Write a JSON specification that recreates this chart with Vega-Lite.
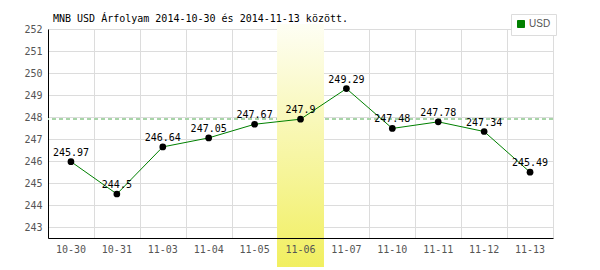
{
  "$schema": "https://vega.github.io/schema/vega-lite/v6.json",
  "width": 505,
  "height": 209,
  "autosize": {"type": "none"},
  "padding": {"left": 48, "top": 29, "right": 47, "bottom": 32},
  "background": "white",
  "title": {
    "text": "MNB USD Árfolyam 2014-10-30 és 2014-11-13 között.",
    "anchor": "start",
    "frame": "group",
    "dx": 5,
    "offset": -18,
    "baseline": "alphabetic",
    "font": "DejaVu Sans Mono",
    "fontSize": 10,
    "fontWeight": "normal",
    "color": "#000000"
  },
  "data": {
    "values": [
      {"date": "10-30", "rate": 245.97},
      {"date": "10-31", "rate": 244.5},
      {"date": "11-03", "rate": 246.64},
      {"date": "11-04", "rate": 247.05},
      {"date": "11-05", "rate": 247.67},
      {"date": "11-06", "rate": 247.9},
      {"date": "11-07", "rate": 249.29},
      {"date": "11-10", "rate": 247.48},
      {"date": "11-11", "rate": 247.78},
      {"date": "11-12", "rate": 247.34},
      {"date": "11-13", "rate": 245.49}
    ]
  },
  "resolve": {"axis": {"x": "independent"}},
  "layer": [
    {
      "mark": {"type": "rule", "color": "#a8d4a8", "strokeDash": [4, 3], "strokeWidth": 1},
      "encoding": {
        "y": {
          "datum": 247.9,
          "type": "quantitative",
          "scale": {"domain": [242.5, 252], "nice": false, "zero": false},
          "axis": {"values": [243, 244, 245, 246, 247, 248, 249, 250, 251, 252], "tickCount": 10, "title": null, "ticks": false, "domainColor": "#000000", "grid": true, "labelPadding": 6, "labelOverlap": false, "labelBound": false, "labelFlush": false}
        }
      }
    },
    {
      "mark": {
        "type": "rect",
        "clip": false,
        "color": {
          "gradient": "linear",
          "x1": 0, "y1": 0, "x2": 0, "y2": 1,
          "stops": [
            {"offset": 0, "color": "#fefef4"},
            {"offset": 1, "color": "#f1ef60"}
          ]
        }
      },
      "encoding": {
        "x": {
          "datum": "11-06",
          "type": "ordinal",
          "scale": {"domain": ["10-30", "10-31", "11-03", "11-04", "11-05", "11-06", "11-07", "11-10", "11-11", "11-12", "11-13"]},
          "axis": {"orient": "bottom", "grid": true, "labels": false, "ticks": false, "domain": false, "title": null, "tickBand": "extent", "gridColor": "#dcdcdc", "zindex": 0}
        },
        "y": {"datum": 252.23, "type": "quantitative", "axis": {"values": [243, 244, 245, 246, 247, 248, 249, 250, 251, 252], "tickCount": 10, "title": null, "ticks": false, "domainColor": "#000000", "grid": true, "labelPadding": 6, "labelOverlap": false, "labelBound": false, "labelFlush": false}},
        "y2": {"datum": 241.18}
      }
    },
    {
      "mark": {"type": "line", "interpolate": "linear", "strokeWidth": 1},
      "encoding": {
        "x": {
          "field": "date",
          "type": "ordinal",
          "axis": {"orient": "bottom", "grid": false, "ticks": false, "domain": true, "domainColor": "#000000", "title": null, "labelAngle": 0, "labelPadding": 6, "zindex": 1}
        },
        "y": {"field": "rate", "type": "quantitative", "axis": {"values": [243, 244, 245, 246, 247, 248, 249, 250, 251, 252], "tickCount": 10, "title": null, "ticks": false, "domainColor": "#000000", "grid": true, "labelPadding": 6, "labelOverlap": false, "labelBound": false, "labelFlush": false}},
        "color": {
          "datum": "USD",
          "scale": {"range": ["#008000"]},
          "legend": {
            "title": null,
            "orient": "none",
            "legendX": 463,
            "legendY": -15,
            "padding": 5,
            "strokeColor": "#dcdcdc",
            "fillColor": "#ffffff",
            "symbolType": "square",
            "symbolSize": 49,
            "symbolFillColor": "#008000",
            "symbolStrokeColor": "#005000",
            "symbolStrokeWidth": 1,
            "labelFont": "Liberation Sans",
            "labelFontSize": 10,
            "labelColor": "#555555",
            "labelOffset": 3
          }
        }
      }
    },
    {
      "mark": {"type": "point", "filled": true, "color": "#000000", "size": 45, "opacity": 1},
      "encoding": {
        "x": {"field": "date", "type": "ordinal", "axis": null},
        "y": {"field": "rate", "type": "quantitative"}
      }
    },
    {
      "mark": {"type": "text", "font": "DejaVu Sans Mono", "fontSize": 10, "color": "#000000", "baseline": "alphabetic", "dy": -6},
      "encoding": {
        "x": {"field": "date", "type": "ordinal", "axis": null},
        "y": {"field": "rate", "type": "quantitative"},
        "text": {"field": "rate", "type": "quantitative"}
      }
    }
  ],
  "config": {
    "view": {"stroke": null},
    "scale": {"bandPaddingInner": 0, "bandPaddingOuter": 0},
    "axis": {
      "labelFont": "DejaVu Sans Mono",
      "labelFontSize": 10,
      "labelColor": "#555555",
      "gridColor": "#dcdcdc",
      "gridWidth": 1,
      "labelOverlap": false
    },
    "axisY": {"labelOverlap": false, "labelBound": false, "labelFlush": false}
  }
}
